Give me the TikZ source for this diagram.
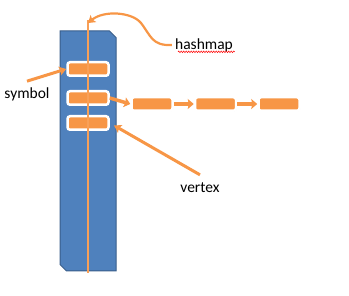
\documentclass[tikz,border=0pt]{standalone}
\usepackage{fontspec}
\setmainfont{Carlito}
\usetikzlibrary{positioning,shapes.misc,shadows,arrows.meta,decorations.pathmorphing}

\definecolor{tabblue}{HTML}{4F81BD}
\definecolor{tabedge}{HTML}{385D8A}
\definecolor{entry}{HTML}{F79646}

\begin{document}
\begin{tikzpicture}[
		x=1pt, y=-1pt,
		node distance=20pt,
		font=\fontsize{15.5}{18}\selectfont,
		table/.style={
			chamfered rectangle,
			chamfered rectangle corners={north east,south west},
			chamfered rectangle xsep=9pt,
			minimum width=56pt,
			minimum height=240pt,
			fill=tabblue,
			draw=tabedge,
			line width=1pt,
		},
		slot/.style={
			rectangle,
			rounded corners=2.5pt,
			fill=entry,
			draw=white,
			line width=2.5pt,
			minimum width=41pt,
			minimum height=13.5pt,
			inner sep=0pt,
			drop shadow={opacity=0.2, shadow xshift=0.6pt, shadow yshift=-0.6pt},
		},
		link/.style={
			-{Stealth[length=7pt,width=9pt,inset=1.5pt]},
			entry,
			line width=3pt,
		},
		chain/.style={
			link,
			line width=3.5pt,
			-{Stealth[length=6pt,width=10pt,inset=1pt]},
		},
		label/.style={
			inner sep=1pt,
		},
	]
	\useasboundingbox (0,0) rectangle (349,296);

	% the table and its spine
	\node [table] (tab) at (88,151) {};
	\coordinate (top) at (88,20);
	\coordinate (bot) at (88,273);

	% buckets
	\node [slot] (b1) at (88,69) {};
	\node [slot] (b2) at (88,98) {};
	\node [slot] (b3) at (88,123) {};
	\draw [entry!90!white, line width=2.5pt] (top) -- (bot);

	% chained entries
	\node [slot] (c1) at (152,104) {};
	\node [slot, right=of c1] (c2) {};
	\node [slot, right=of c2] (c3) {};

	\draw [chain] (b2.east) -- (c1.west);
	\draw [chain] (c1) -- (c2);
	\draw [chain] (c2) -- (c3);

	% labels
	\node [label] (symbol) at (27,94) {symbol};
	\node [label] (vertex) at (200,188) {vertex};
	\node [label] (hashmap) at (204,45) {hashmap};
	\draw [red, line width=0.5pt, decorate,
		decoration={snake, amplitude=0.8pt, segment length=2.5pt}]
		(hashmap.south west) ++(4,-1) -- ++(57,0);

	\draw [link] (symbol.north) ++(0,-5) -- (b1.west);
	\draw [link, shorten >=5pt] (vertex.north) ++(0,-7) -- (b3.east);
	\draw [link, line width=2.2pt] (hashmap.west) ++(-2,0)
		.. controls (152,46) and (151,36) .. (141,23)
		.. controls (132,12) and (104,10) .. ([yshift=-3pt]top);
\end{tikzpicture}
\end{document}
